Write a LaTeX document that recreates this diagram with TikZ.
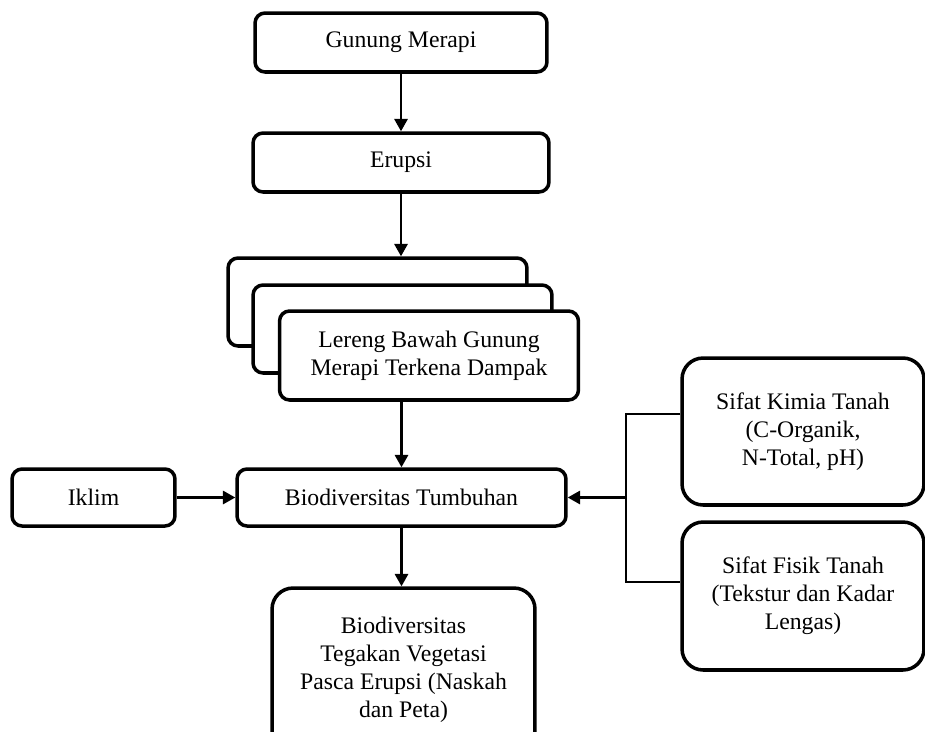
\documentclass[tikz,border=0pt]{standalone}
\usepackage{fontspec}
\setmainfont{Liberation Serif}
\usetikzlibrary{arrows.meta, positioning, calc}

\begin{document}
\begin{tikzpicture}[
  x=0.02cm, y=-0.02cm,
  box/.style={rectangle, draw=black, fill=white, line width=2pt, rounded corners=5.7pt, align=center, font=\fontsize{13.5}{16}\selectfont, inner sep=2pt},
  bigbox/.style={box, rounded corners=12pt},
  arr/.style={-{Triangle[length=7pt,width=7.5pt]}, line width=1.3pt},
  link/.style={line width=0.9pt},
]
\useasboundingbox (0,0) rectangle (925,731);

% --- main column ---
\node[box, minimum width=5.84cm, minimum height=1.18cm] (merapi) at (401,42.5) {Gunung Merapi};
\node[box, minimum width=5.92cm, minimum height=1.18cm] (erupsi) at (401,162.5) {Erupsi};
\node[box, minimum width=5.98cm, minimum height=1.76cm] (back) at (377.5,302) {};
\node[box, minimum width=5.98cm, minimum height=1.76cm] (mid) at (402.5,329) {};
\node[box, minimum width=5.98cm, minimum height=1.78cm] (lereng) at (429,355.5) {Lereng Bawah Gunung\\ Merapi Terkena Dampak};
\node[box, minimum width=6.58cm, minimum height=1.14cm] (biotum) at (401.5,497.5) {Biodiversitas Tumbuhan};
\node[bigbox, minimum width=5.26cm, minimum height=3.28cm] (tegakan) at (403.5,670) {Biodiversitas\\ Tegakan Vegetasi\\ Pasca Erupsi (Naskah\\ dan Peta)};

% --- side boxes ---
\node[box, minimum width=3.26cm, minimum height=1.14cm] (iklim) at (93.5,497.5) {Iklim};
\node[bigbox, minimum width=4.84cm, minimum height=2.94cm] (kimia) at (803,431.5) {Sifat Kimia Tanah\\ (C-Organik,\\ N-Total, pH)};
\node[bigbox, minimum width=4.84cm, minimum height=2.96cm] (fisik) at (803,596) {Sifat Fisik Tanah\\ (Tekstur dan Kadar\\ Lengas)};

% --- arrows ---
\draw[arr] (merapi) -- (erupsi);
\draw[arr] (erupsi.south) -- (erupsi.south |- back.north);
\draw[arr] (biotum.north |- lereng.south) -- (biotum.north);
\draw[arr] (biotum.south) -- (biotum.south |- tegakan.north);
\draw[arr] (iklim) -- (biotum);

\coordinate (split) at (626,497.5);
\draw[link] ($(kimia.west)+(0,-17.5)$) -| (split) |- ($(fisik.west)+(0,-14)$);
\draw[arr] (split) -- (biotum.east);
\end{tikzpicture}
\end{document}
